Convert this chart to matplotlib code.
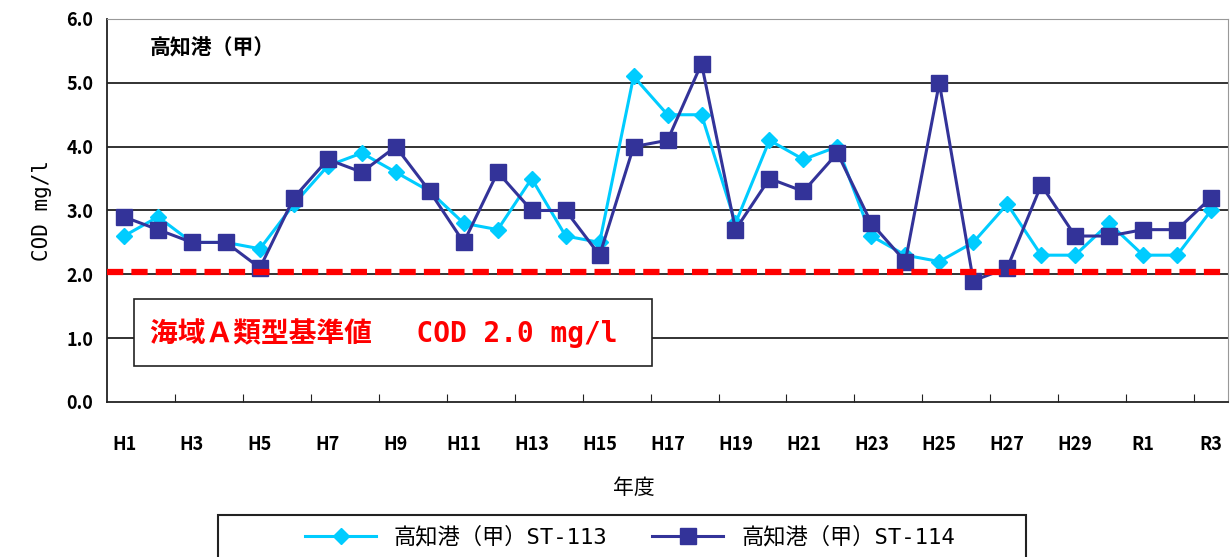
import matplotlib
matplotlib.use('Agg')
import matplotlib.pyplot as plt
from matplotlib.patches import Rectangle
import numpy as np

plt.rcParams['font.family'] = ['Noto Sans CJK JP', 'DejaVu Sans']

years = ['H1', 'H2', 'H3', 'H4', 'H5', 'H6', 'H7', 'H8', 'H9', 'H10',
         'H11', 'H12', 'H13', 'H14', 'H15', 'H16', 'H17', 'H18', 'H19', 'H20',
         'H21', 'H22', 'H23', 'H24', 'H25', 'H26', 'H27', 'H28', 'H29', 'H30',
         'R1', 'R2', 'R3']
tick_labels = ['H1', 'H3', 'H5', 'H7', 'H9', 'H11', 'H13', 'H15', 'H17', 'H19',
               'H21', 'H23', 'H25', 'H27', 'H29', 'R1', 'R3']
st113 = [2.6, 2.9, 2.5, 2.5, 2.4, 3.1, 3.7, 3.9, 3.6, 3.3,
         2.8, 2.7, 3.5, 2.6, 2.5, 5.1, 4.5, 4.5, 2.8, 4.1,
         3.8, 4.0, 2.6, 2.3, 2.2, 2.5, 3.1, 2.3, 2.3, 2.8,
         2.3, 2.3, 3.0]
st114 = [2.9, 2.7, 2.5, 2.5, 2.1, 3.2, 3.8, 3.6, 4.0, 3.3,
         2.5, 3.6, 3.0, 3.0, 2.3, 4.0, 4.1, 5.3, 2.7, 3.5,
         3.3, 3.9, 2.8, 2.2, 5.0, 1.9, 2.1, 3.4, 2.6, 2.6,
         2.7, 2.7, 3.2]
standard = 2.0

mono_cjk = ['DejaVu Sans Mono', 'Noto Sans CJK JP']

fig = plt.figure(figsize=(12.32, 5.57), dpi=100)
ax = fig.add_axes([0.0869, 0.2783, 0.9099, 0.6876])

x = np.arange(len(years))
ax.plot(x, st113, color='#00ccff', lw=2.2, marker='D', ms=8, label='高知港（甲）ST-113', zorder=4)
ax.plot(x, st114, color='#333399', lw=2.2, marker='s', ms=12, label='高知港（甲）ST-114', zorder=5)
ax.axhline(standard + 0.03, color='#ff0000', lw=4.5, ls=(0, (2.6, 1.3)), zorder=6)

ax.set_xlim(-0.5, len(years) - 0.5)
ax.set_ylim(0, 6)
ax.set_yticks(np.arange(0, 6.1, 1.0))
ax.set_yticklabels([f'{v:.1f}' for v in np.arange(0, 6.1, 1.0)], fontsize=13, fontweight='bold')
for v in range(1, 6):
    ax.axhline(v, color='#222222', lw=1.3, zorder=1)

ax.set_xticks(np.arange(1.5, len(years) - 1, 2))
ax.set_xticklabels([])
ax.set_xticks(np.arange(0, len(years), 2), minor=True)
ax.set_xticklabels(tick_labels, minor=True, fontsize=13, fontweight='bold')
ax.tick_params(axis='x', which='minor', length=0, pad=24)
ax.tick_params(axis='x', which='major', length=6, direction='in', color='#222222')
ax.tick_params(axis='y', length=0, pad=10)

for s in ['top', 'right']:
    ax.spines[s].set_color('#999999')
ax.spines['left'].set_color('#222222')
ax.spines['bottom'].set_color('#222222')
ax.spines['left'].set_linewidth(1.3)
ax.spines['bottom'].set_linewidth(1.3)

ax.set_ylabel('COD mg/l', family='DejaVu Sans Mono', fontsize=15, labelpad=10)
fig.text(634 / 1232, 1 - 488 / 557, '年度', ha='center', va='center', fontsize=15)

fig.text(150 / 1232, 1 - 48 / 557, '高知港（甲）', ha='left', va='center',
         fontsize=15, fontweight='bold')

fig.patches.append(Rectangle((134 / 1232, 1 - 366 / 557), (652 - 134) / 1232, (366 - 299) / 557,
                             transform=fig.transFigure, facecolor='white', edgecolor='#222222',
                             lw=1.2, zorder=10))
fig.text(150 / 1232, 1 - 333 / 557, '海域Ａ類型基準値　 COD 2.0 mg/l', color='#ff0000',
         family=mono_cjk, fontsize=20, fontweight='bold', ha='left', va='center', zorder=11)

fig.patches.append(Rectangle((218 / 1232, -0.05), (1026 - 218) / 1232, 0.05 + 42 / 557,
                             transform=fig.transFigure, facecolor='white', edgecolor='#222222',
                             lw=1.5))
fig.legend(loc='center', bbox_to_anchor=(630 / 1232, 1 - 537 / 557), ncol=2, frameon=False,
           prop={'family': mono_cjk, 'size': 16}, handlelength=3.2, columnspacing=2.0)

fig.savefig('out.png', dpi=100)
